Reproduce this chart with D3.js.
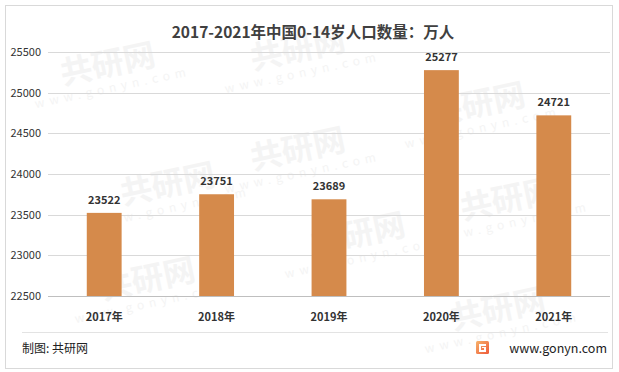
<!DOCTYPE html>
<html>
<head>
<meta charset="utf-8">
<script src="https://cdn.jsdelivr.net/npm/d3@7"></script>
<style>
  body { margin: 0; background: #fff; }
  text { font-family: "Noto Sans CJK SC", "Noto Sans", sans-serif; }
</style>
</head>
<body>
<div id="chart"></div>
<script>
const years = ["2017年", "2018年", "2019年", "2020年", "2021年"];
const population = [23522, 23751, 23689, 25277, 24721];
const yTicks = [22500, 23000, 23500, 24000, 24500, 25000, 25500];

const w = 619;
const h = 372;

const svg = d3.select("#chart")
  .append("svg")
  .attr("width", w)
  .attr("height", h);

// outer frame
svg.append("rect")
  .attr("x", 5.5).attr("y", 5.5)
  .attr("width", 607).attr("height", 363)
  .attr("fill", "#fff")
  .attr("stroke", "#d9d9d9");

// faint watermarks
const marks = [[110, 75], [300, 60], [480, 115], [170, 195], [360, 245], [510, 210], [150, 290], [500, 320], [300, 160]];
marks.forEach(([x, y]) => {
  const g = svg.append("g").attr("transform", `translate(${x},${y}) rotate(-12)`);
  g.append("text").attr("text-anchor", "middle")
    .attr("font-size", 32).attr("font-weight", "bold")
    .attr("fill", "#f4f4f4").text("共研网");
  g.append("text").attr("text-anchor", "middle").attr("y", 17)
    .attr("font-size", 12).attr("letter-spacing", 5)
    .attr("fill", "#f4f4f4").text("www.gonyn.com");
});

const x = d3.scaleBand()
  .domain(years)
  .range([48, 610])
  .paddingInner(0.69)
  .paddingOuter(0.345);

const y = d3.scaleLinear()
  .domain([22500, 25500])
  .range([296, 52]);

// gridlines
svg.append("g")
  .selectAll("line")
  .data(yTicks.slice(1))
  .enter()
  .append("line")
  .attr("x1", 48).attr("x2", 610)
  .attr("y1", d => Math.round(y(d)) + 0.5)
  .attr("y2", d => Math.round(y(d)) + 0.5)
  .attr("stroke", "#d9d9d9");

// y labels
svg.append("g")
  .selectAll("text")
  .data(yTicks)
  .enter()
  .append("text")
  .attr("x", 41)
  .attr("y", d => y(d) + 4)
  .attr("text-anchor", "end")
  .attr("font-size", 11)
  .attr("fill", "#333")
  .text(d => d);

// bars
svg.append("g")
  .selectAll("rect")
  .data(population)
  .enter()
  .append("rect")
  .attr("x", (d, i) => x(years[i]))
  .attr("y", d => y(d))
  .attr("width", x.bandwidth())
  .attr("height", d => y(22500) - y(d))
  .attr("fill", "#d58a4b");

// value labels
svg.append("g")
  .selectAll("text")
  .data(population)
  .enter()
  .append("text")
  .attr("x", (d, i) => x(years[i]) + x.bandwidth() / 2)
  .attr("y", d => y(d) - 9)
  .attr("text-anchor", "middle")
  .attr("font-size", 11)
  .attr("font-weight", "bold")
  .attr("fill", "#333")
  .text(d => d);

// x axis baseline
svg.append("line")
  .attr("x1", 48).attr("x2", 610)
  .attr("y1", Math.round(y(22500)) + 0.5)
  .attr("y2", Math.round(y(22500)) + 0.5)
  .attr("stroke", "#bfbfbf");

// x labels
svg.append("g")
  .selectAll("text")
  .data(years)
  .enter()
  .append("text")
  .attr("x", d => x(d) + x.bandwidth() / 2)
  .attr("y", 321)
  .attr("text-anchor", "middle")
  .attr("font-size", 11)
  .attr("font-weight", "bold")
  .attr("fill", "#333")
  .text(d => d);

// title
svg.append("text")
  .attr("x", 313)
  .attr("y", 38)
  .attr("text-anchor", "middle")
  .attr("font-size", 15.5)
  .attr("font-weight", "bold")
  .attr("fill", "#404040")
  .text("2017-2021年中国0-14岁人口数量：万人");

// footer
svg.append("line")
  .attr("x1", 22).attr("x2", 608)
  .attr("y1", 332.5).attr("y2", 332.5)
  .attr("stroke", "#e3e3e3");

svg.append("text")
  .attr("x", 22).attr("y", 353)
  .attr("font-size", 12)
  .attr("fill", "#222")
  .text("制图: 共研网");

svg.append("text")
  .attr("x", 607).attr("y", 353)
  .attr("text-anchor", "end")
  .attr("font-size", 12.5)
  .attr("fill", "#222")
  .text("www.gonyn.com");

// logo
const logo = svg.append("g").attr("transform", "translate(476,341)");
const grad = svg.append("defs").append("linearGradient")
  .attr("id", "lg").attr("x1", 0).attr("y1", 0).attr("x2", 1).attr("y2", 1);
grad.append("stop").attr("offset", 0).attr("stop-color", "#f7b36b");
grad.append("stop").attr("offset", 1).attr("stop-color", "#ee5a3a");
logo.append("rect").attr("width", 13).attr("height", 13).attr("rx", 1.5).attr("fill", "url(#lg)");
logo.append("path").attr("d", "M3,3 H10 V5 H5 V9 H8 V7 H6 V6 H10 V11 H3 Z").attr("fill", "#fff");
</script>
</body>
</html>
